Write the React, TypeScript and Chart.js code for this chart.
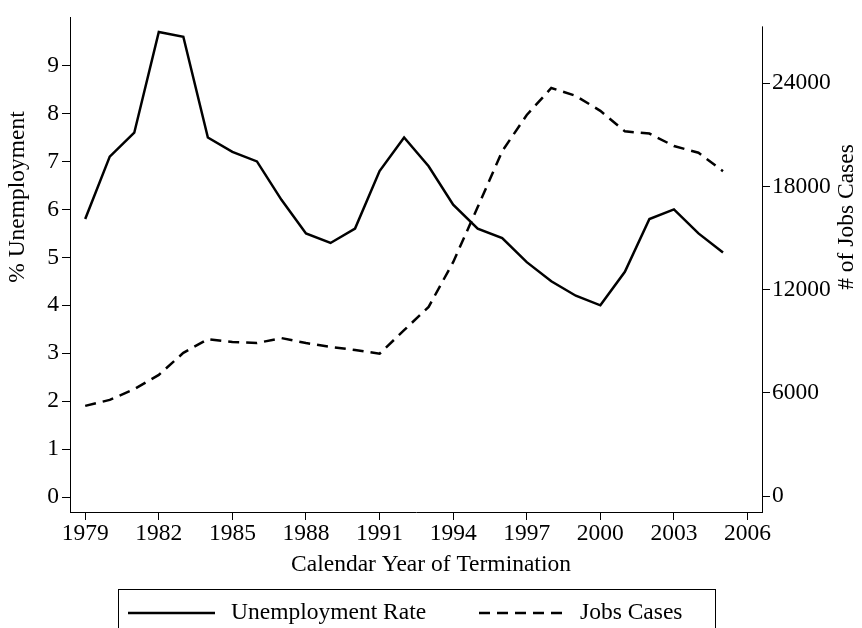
import React, { useEffect, useRef } from "react";
import { Chart, registerables } from "chart.js";

Chart.register(...registerables);

const YEARS = [1979, 1980, 1981, 1982, 1983, 1984, 1985, 1986, 1987, 1988, 1989, 1990, 1991, 1992, 1993, 1994, 1995, 1996, 1997, 1998, 1999, 2000, 2001, 2002, 2003, 2004, 2005];
const UNEMPLOYMENT = [5.8, 7.1, 7.6, 9.7, 9.6, 7.5, 7.2, 7.0, 6.2, 5.5, 5.3, 5.6, 6.8, 7.5, 6.9, 6.1, 5.6, 5.4, 4.9, 4.5, 4.2, 4.0, 4.7, 5.8, 6.0, 5.5, 5.1];
const JOBS_CASES = [5250, 5600, 6220, 7050, 8330, 9130, 8960, 8900, 9190, 8900, 8680, 8500, 8280, 9650, 11000, 13600, 16800, 20050, 22150, 23720, 23260, 22390, 21200, 21070, 20350, 19960, 18880];
const X_TICKS = [1979, 1982, 1985, 1988, 1991, 1994, 1997, 2000, 2003, 2006];
const LEFT_TICKS = [0, 1, 2, 3, 4, 5, 6, 7, 8, 9];
const RIGHT_TICKS = [0, 6000, 12000, 18000, 24000];

const SERIES_NAMES = ["Unemployment Rate", "Jobs Cases"];
const X_TITLE = "Calendar Year of Termination";
const LEFT_TITLE = "% Unemployment";
const RIGHT_TITLE = "# of Jobs Cases";

const FONT_FAMILY = "'Liberation Serif', 'Times New Roman', serif";
const FONT_SIZE = 23.5;

const overlay = {
  id: "overlay",
  afterDraw(chart: any) {
    const ctx = chart.ctx as CanvasRenderingContext2D;
    const area = chart.chartArea;
    const y2 = chart.scales.y2;
    ctx.save();
    // right axis line (starts slightly below top)
    ctx.strokeStyle = "#000";
    ctx.lineWidth = 1;
    ctx.beginPath();
    ctx.moveTo(Math.round(area.right) + 0.5, y2.getPixelForValue(27300));
    ctx.lineTo(Math.round(area.right) + 0.5, area.bottom + 0.5);
    ctx.stroke();

    ctx.fillStyle = "#000";
    ctx.font = `${FONT_SIZE}px ${FONT_FAMILY}`;
    ctx.textAlign = "center";
    ctx.textBaseline = "middle";
    // x title
    ctx.fillText(X_TITLE, 431, 565);
    // left title
    ctx.save();
    ctx.translate(18, 197);
    ctx.rotate(-Math.PI / 2);
    ctx.fillText(LEFT_TITLE, 0, 0);
    ctx.restore();
    // right title
    ctx.save();
    ctx.translate(847, 217);
    ctx.rotate(-Math.PI / 2);
    ctx.fillText(RIGHT_TITLE, 0, 0);
    ctx.restore();

    // legend box
    ctx.lineWidth = 1;
    ctx.strokeStyle = "#000";
    ctx.strokeRect(118.5, 589.5, 597, 60);
    const ds = chart.data.datasets;
    const ly = 613;
    const items = [
      { x0: 128, x1: 215, tx: 231, d: ds[0] },
      { x0: 479, x1: 566, tx: 580, d: ds[1] },
    ];
    items.forEach((it) => {
      ctx.save();
      ctx.strokeStyle = it.d.borderColor;
      ctx.lineWidth = it.d.borderWidth;
      ctx.setLineDash(it.d.borderDash || []);
      ctx.beginPath();
      ctx.moveTo(it.x0, ly);
      ctx.lineTo(it.x1, ly);
      ctx.stroke();
      ctx.restore();
      ctx.textAlign = "left";
      ctx.fillText(it.d.label, it.tx, ly);
    });
    ctx.restore();
  },
};

export default function App() {
  const ref = useRef<HTMLCanvasElement>(null);
  useEffect(() => {
    if (!ref.current) return;
    const font = { family: FONT_FAMILY, size: FONT_SIZE };
    const axisCommon = {
      grid: { drawOnChartArea: false, drawTicks: true, tickLength: 8, color: "#000", tickWidth: 1 },
      border: { display: true, color: "#000", width: 1 },
    };
    const chart = new Chart(ref.current, {
      type: "line",
      data: {
        datasets: [
          {
            label: SERIES_NAMES[0],
            data: YEARS.map((yr, i) => ({ x: yr, y: UNEMPLOYMENT[i] })),
            borderColor: "#000",
            borderWidth: 2.5,
            pointRadius: 0,
            tension: 0,
            yAxisID: "y",
            borderJoinStyle: "miter",
          },
          {
            label: SERIES_NAMES[1],
            data: YEARS.map((yr, i) => ({ x: yr, y: JOBS_CASES[i] })),
            borderColor: "#000",
            borderWidth: 2.5,
            borderDash: [11, 7],
            pointRadius: 0,
            tension: 0,
            yAxisID: "y2",
            borderJoinStyle: "miter",
          },
        ],
      },
      options: {
        animation: false,
        responsive: false,
        devicePixelRatio: 1,
        layout: { padding: { top: 9, bottom: 48, left: 0, right: 0 } },
        plugins: { legend: { display: false }, tooltip: { enabled: false } },
        scales: {
          x: {
            type: "linear",
            position: "bottom",
            min: 1978.38,
            max: 2006.59,
            afterFit: (s: any) => { s.height = 68; },
            afterBuildTicks: (s: any) => { s.ticks = X_TICKS.map((v) => ({ value: v })); },
            ...axisCommon,
            ticks: { color: "#000", font, padding: 0, maxRotation: 0, autoSkip: false, callback: (v: any) => String(v) },
          },
          y: {
            type: "linear",
            position: "left",
            min: -0.31,
            max: 10.01,
            afterFit: (s: any) => { s.width = 70; },
            afterBuildTicks: (s: any) => { s.ticks = LEFT_TICKS.map((v) => ({ value: v })); },
            ...axisCommon,
            ticks: { color: "#000", font, padding: 3, callback: (v: any) => String(v) },
          },
          y2: {
            type: "linear",
            position: "right",
            min: -915,
            max: 27838,
            afterFit: (s: any) => { s.width = 100; },
            afterBuildTicks: (s: any) => { s.ticks = RIGHT_TICKS.map((v) => ({ value: v })); },
            grid: { drawOnChartArea: false, drawTicks: true, tickLength: 8, color: "#000", tickWidth: 1 },
            border: { display: false },
            ticks: { color: "#000", font, padding: 2, callback: (v: any) => String(v) },
          },
        },
      },
      plugins: [overlay],
    } as any);
    return () => chart.destroy();
  }, []);
  return (
    <div style={{ position: "absolute", left: 0, top: 0, width: 862, height: 628, background: "#fff" }}>
      <canvas ref={ref} width={862} height={628} style={{ display: "block" }} />
    </div>
  );
}
